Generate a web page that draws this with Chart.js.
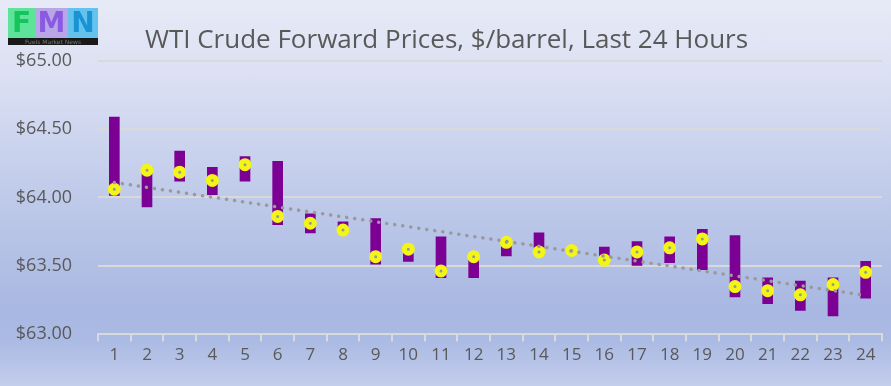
<!DOCTYPE html>
<html>
<head>
<meta charset="utf-8">
<script src="https://cdn.jsdelivr.net/npm/chart.js@4"></script>
<style>
  html, body { margin: 0; padding: 0; }
  #wrap {
    position: relative;
    width: 891px;
    height: 386px;
    background: linear-gradient(to bottom, #e7eaf6 0%, #dbe0f3 20%, #c0cbea 50%, #a9b8e2 80%, #abbae3 88%, #c3cdec 100%);
    overflow: hidden;
  }
  #logo { position: absolute; left: 8px; top: 8px; width: 90px; height: 38px; }
  #logo .blk {
    position: absolute; top: 0; height: 30px;
    font: bold 28px "DejaVu Sans", sans-serif; line-height: 30px; text-align: center;
  }
  #logo .band {
    position: absolute; left: 0; top: 30px; width: 90px; height: 7px; background: #1a1a1a;
    color: #777; font: 6px "DejaVu Sans", sans-serif; line-height: 7px; text-align: center; white-space: nowrap; overflow: hidden;
  }
  canvas { position: absolute; left: 0; top: 0; }
</style>
</head>
<body>
<div id="wrap">
  <canvas id="chart" width="891" height="386"></canvas>
  <div id="logo">
    <div class="blk" style="left:0;width:27px;background:#5ee39a;color:#16c45e">F</div>
    <div class="blk" style="left:27px;width:33px;background:#b9a6e8;color:#8a5be0">M</div>
    <div class="blk" style="left:60px;width:30px;background:#63c3ec;color:#1a93d6">N</div>
    <div class="band">Fuels Market News</div>
  </div>
</div>
<script>
// ====== Dữ liệu ======
const hours = ["1","2","3","4","5","6","7","8","9","10","11","12","13","14","15","16","17","18","19","20","21","22","23","24"];
const lowPrice  = [64.015, 63.93, 64.12, 64.02, 64.12, 63.80, 63.74, 63.75, 63.51, 63.53, 63.41, 63.41, 63.57, 63.58, 63.60, 63.52, 63.50, 63.52, 63.47, 63.27, 63.22, 63.17, 63.13, 63.26];
const highPrice = [64.59, 64.22, 64.34, 64.22, 64.30, 64.265, 63.88, 63.82, 63.845, 63.64, 63.71, 63.58, 63.69, 63.74, 63.62, 63.635, 63.675, 63.71, 63.765, 63.72, 63.41, 63.385, 63.41, 63.53];
const lastPrice = [64.06, 64.20, 64.185, 64.125, 64.24, 63.86, 63.81, 63.76, 63.565, 63.62, 63.46, 63.565, 63.67, 63.60, 63.61, 63.54, 63.60, 63.63, 63.695, 63.345, 63.315, 63.285, 63.36, 63.45];
const trendEnds = [64.11, 63.28];
const yTicks = [63.0, 63.5, 64.0, 64.5, 65.0];

const textColor = "#595959";
const gridColor = "#d9d9d9";

const ranges = hours.map((h, i) => [lowPrice[i], highPrice[i]]);
const trend = [
  { x: hours[0], y: trendEnds[0] },
  { x: hours[hours.length - 1], y: trendEnds[1] },
];

new Chart(document.getElementById("chart"), {
  type: "bar",
  data: {
    labels: hours,
    datasets: [
      {
        type: "line",
        data: trend,
        borderColor: "#999999",
        borderWidth: 3.5,
        borderDash: [0.1, 8],
        borderCapStyle: "round",
        pointRadius: 0,
        order: 0,
      },
      {
        type: "line",
        data: lastPrice,
        showLine: false,
        pointRadius: 4,
        pointBorderWidth: 5,
        pointBackgroundColor: "#9a9a8a",
        pointBorderColor: "#f2f516",
        order: 1,
      },
      {
        data: ranges,
        backgroundColor: "#7d0094",
        borderWidth: 0,
        borderSkipped: false,
        barThickness: 10,
        order: 2,
      },
    ],
  },
  options: {
    responsive: false,
    animation: false,
    layout: { padding: { left: 8, right: 6, top: 0, bottom: 18 } },
    plugins: {
      legend: { display: false },
      tooltip: { enabled: false },
      title: {
        display: true,
        text: "WTI Crude Forward Prices, $/barrel, Last 24 Hours",
        color: textColor,
        font: { family: "Open Sans", size: 26, weight: "normal", lineHeight: 1.2 },
        padding: { top: 25, bottom: 5 },
      },
    },
    scales: {
      x: {
        grid: {
          display: true,
          drawOnChartArea: false,
          drawTicks: true,
          tickLength: 8,
          color: gridColor,
          lineWidth: 2,
        },
        border: { display: true, color: gridColor, width: 2 },
        ticks: {
          color: textColor,
          font: { family: "Open Sans", size: 17 },
          padding: 3,
          maxRotation: 0,
          autoSkip: false,
        },
      },
      y: {
        min: 63,
        max: 65,
        afterBuildTicks: s => { s.ticks = yTicks.map(v => ({ value: v })); },
        afterFit: s => { s.width = 90; },
        grid: { color: gridColor, lineWidth: 2, drawTicks: false },
        border: { display: false },
        ticks: {
          color: textColor,
          font: { family: "Open Sans", size: 18 },
          padding: 26,
          callback: v => "$" + v.toFixed(2),
        },
      },
    },
  },
});
</script>
</body>
</html>
